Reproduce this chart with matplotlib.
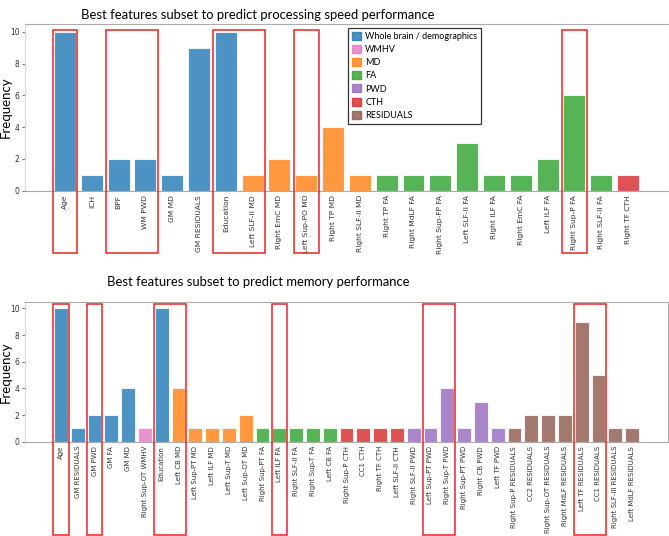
import matplotlib.pyplot as plt
from matplotlib import patches
import numpy as np

# top chart: processing speed
speed_features = ['Age', 'ICH', 'BPF', 'WM PWD', 'GM MD', 'GM RESIDUALS', 'Education',
                  'Left SLF-II MD', 'Right EmC MD', 'Left Sup-PO MD', 'Right TP MD',
                  'Right SLF-II MD', 'Right TP FA', 'Right MdLF FA', 'Right Sup-FP FA',
                  'Left SLF-II FA', 'Right ILF FA', 'Right EmC FA', 'Left ILF FA',
                  'Right Sup-P FA', 'Right SLF-II FA', 'Right TF CTH']
speed_freq = [10, 1, 2, 2, 1, 9, 10, 1, 2, 1, 4, 1, 1, 1, 1, 3, 1, 1, 2, 6, 1, 1]
speed_group = ['Whole brain / demographics'] * 7 + ['MD'] * 5 + ['FA'] * 9 + ['CTH']
speed_boxes = [(0, 0), (2, 3), (6, 7), (9, 9), (19, 19)]

# bottom chart: memory
memory_features = ['Age', 'GM RESIDUALS', 'GM PWD', 'GM FA', 'GM MD', 'Right Sup-OT WMHV',
                   'Education', 'Left CB MD', 'Left Sup-PT MD', 'Left ILF MD', 'Left Sup-T MD',
                   'Left Sup-OT MD', 'Right Sup-PT FA', 'Left ILF FA', 'Right SLF-II FA',
                   'Right Sup-T FA', 'Left CB FA', 'Right Sup-P CTH', 'CC1 CTH', 'Right TF CTH',
                   'Left SLF-II CTH', 'Right SLF-II PWD', 'Left Sup-PT PWD', 'Right Sup-T PWD',
                   'Right Sup-PT PWD', 'Right CB PWD', 'Left TF PWD', 'Right Sup-P RESIDUALS',
                   'CC2 RESIDUALS', 'Right Sup-OT RESIDUALS', 'Right MdLF RESIDUALS',
                   'Left TF RESIDUALS', 'CC1 RESIDUALS', 'Right SLF-III RESIDUALS',
                   'Left MdLF RESIDUALS']
memory_freq = [10, 1, 2, 2, 4, 1, 10, 4, 1, 1, 1, 2, 1, 1, 1, 1, 1, 1, 1, 1, 1, 1, 1, 4,
               1, 3, 1, 1, 2, 2, 2, 9, 5, 1, 1]
memory_group = (['Whole brain / demographics'] * 5 + ['WMHV'] + ['Whole brain / demographics']
                + ['MD'] * 5 + ['FA'] * 5 + ['CTH'] * 4 + ['PWD'] * 6 + ['RESIDUALS'] * 8)
memory_boxes = [(0, 0), (2, 2), (6, 7), (13, 13), (22, 23), (31, 32)]

group_colors = {
    'Whole brain / demographics': 'tab:blue',
    'WMHV': 'tab:pink',
    'MD': 'tab:orange',
    'FA': 'tab:green',
    'PWD': 'tab:purple',
    'CTH': 'tab:red',
    'RESIDUALS': 'tab:brown',
}

TITLE_FONT = ['Lato', 'DejaVu Sans']

fig = plt.figure(figsize=(6.69, 5.36), dpi=100)


def draw_panel(ax, features, freq, groups, boxes, xlim, box_y, fs):
    x = np.arange(len(features))
    cols = [group_colors[g] for g in groups]
    ax.bar(x, freq, width=0.82, color=cols, alpha=0.8, edgecolor='white', linewidth=0.8)
    ax.set_xlim(*xlim)
    ax.set_ylim(0, 10.5)
    ax.set_yticks([0, 2, 4, 6, 8, 10])
    ax.set_xticks(x)
    ax.set_xticklabels(features, rotation=90, fontsize=fs)
    ax.tick_params(axis='x', length=0, pad=3, colors='#333333')
    ax.tick_params(axis='y', labelsize=5.5, length=2, width=0.5, pad=2, colors='#333333')
    for s in ax.spines.values():
        s.set_color('#aaaaaa')
        s.set_linewidth(0.8)
    ax.spines['left'].set_color('#dddddd')
    ax.set_ylabel('Frequency', fontsize=9.5, family=TITLE_FONT)
    ax.yaxis.set_label_coords(-0.021, 0.5)

    # red boxes around the highlighted features
    for a, b in boxes:
        r = patches.Rectangle((a - 0.46, box_y[0]), (b - a) + 0.92, box_y[1] - box_y[0],
                              transform=ax.get_xaxis_transform(), fill=False,
                              edgecolor='#ee2222', linewidth=1.1, clip_on=False, zorder=5)
        ax.add_patch(r)


ax1 = fig.add_axes([0.0374, 0.6442, 0.9626, 0.311])
draw_panel(ax1, speed_features, speed_freq, speed_group, speed_boxes,
           (-1.49, 22.53), (-0.374, 0.964), 5.4)

handles = [patches.Patch(color=c, alpha=0.8, label=g) for g, c in group_colors.items()]
leg = ax1.legend(handles=handles, loc='upper left', bbox_to_anchor=(0.5016, 0.976),
                 prop={'family': TITLE_FONT, 'size': 6.5}, frameon=True, fancybox=False,
                 handlelength=1.0, handleheight=1.0, handletextpad=0.5, labelspacing=0.45,
                 borderpad=0.4, borderaxespad=0)
leg.get_frame().set_edgecolor('black')
leg.get_frame().set_linewidth(0.9)

ax2 = fig.add_axes([0.0374, 0.1759, 0.9611, 0.2612])
draw_panel(ax2, memory_features, memory_freq, memory_group, memory_boxes,
           (-2.14, 36.14), (-0.666, 0.984), 5.0)

fig.text(0.386, 0.972, 'Best features subset to predict processing speed performance',
         ha='center', va='center', fontsize=9.4, family=TITLE_FONT)
fig.text(0.386, 0.474, 'Best features subset to predict memory performance',
         ha='center', va='center', fontsize=9.4, family=TITLE_FONT)

fig.savefig('out.png', dpi=100)
